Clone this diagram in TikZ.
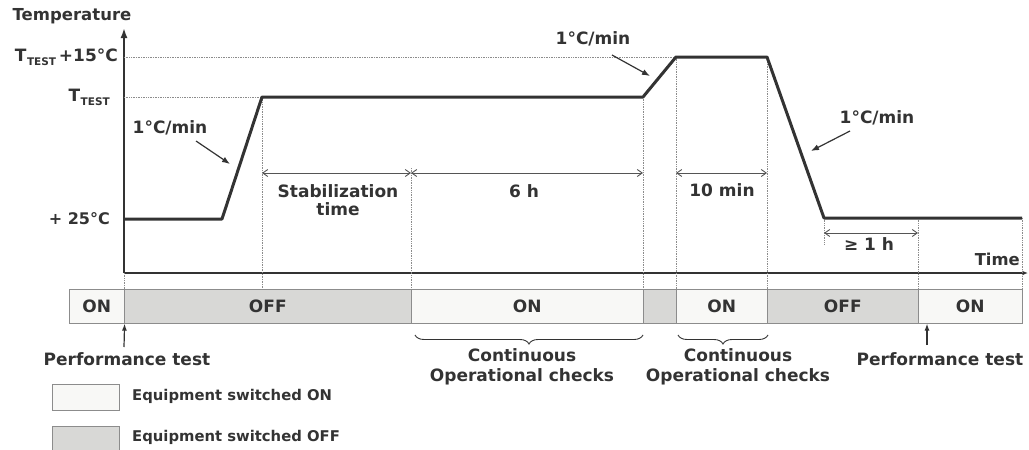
\documentclass[tikz,border=0pt]{standalone}
\usepackage{fontspec}
\setmainfont{DejaVu Sans}
\usetikzlibrary{arrows.meta,decorations.pathreplacing}
\definecolor{ink}{HTML}{333333}
\definecolor{offgray}{HTML}{D8D8D6}
\definecolor{onwhite}{HTML}{F8F8F6}
\definecolor{dotgray}{HTML}{8C8C8C}
\definecolor{dimgray}{HTML}{555555}
\newcommand{\ttest}{T\kern0.5pt\raisebox{-0.45ex}{\fontsize{10.5}{11}\selectfont TEST}}
\begin{document}
\begin{tikzpicture}[x=1pt,y=-1pt,
  lbl/.style={font=\bfseries\fontsize{17}{20}\selectfont, text=ink, inner sep=0pt},
  leg/.style={font=\bfseries\fontsize{14.8}{18}\selectfont, text=ink, inner sep=0pt, anchor=west},
  seg/.style={draw=dotgray, line width=0.6pt, minimum height=34pt, anchor=north west, inner sep=0pt,
    font=\bfseries\fontsize{17}{20}\selectfont, text=ink},
  onseg/.style={seg, fill=onwhite},
  offseg/.style={seg, fill=offgray},
  axisline/.style={draw=ink, line width=1.8pt},
  curveline/.style={draw=ink, line width=3pt, line join=round},
  guide/.style={draw=dotgray, line width=0.7pt, densely dotted},
  dimarr/.style={draw=dimgray, line width=0.9pt, {Straight Barb[length=5pt,width=7pt]}-{Straight Barb[length=5pt,width=7pt]}},
  ratearr/.style={draw=ink, line width=1.2pt, -{Latex[length=8pt,width=6pt]}},
  testarr/.style={draw=ink, line width=1.2pt, -{Latex[length=7pt,width=5pt]}},
  bracedeco/.style={draw=ink, line width=0.9pt, decorate, decoration={brace, mirror, amplitude=9pt}}
]
\useasboundingbox (0,0) rectangle (1029,450);

% ---- axes
\coordinate (o) at (124,273);
\coordinate (ytop) at (124,28);
\coordinate (xend) at (1028,273);
\draw[axisline, -{Latex[length=10pt,width=7pt]}] (o) -- (ytop);
\draw[axisline, -{Latex[length=6pt,width=5pt]}] (o) -- (xend);
\node[lbl, font=\bfseries\fontsize{16.5}{20}\selectfont] (ylab) at (72,16) {Temperature};
\node[lbl, font=\bfseries\fontsize{16.4}{20}\selectfont, anchor=east] (xlab) at (1020,259) {Time};

% ---- level labels
\node[lbl, anchor=east] (lhi) at (118,57) {\ttest\,+15°C};
\node[lbl, anchor=east] (lmid) at (110,97) {\ttest};
\node[lbl, anchor=east, font=\bfseries\fontsize{16}{20}\selectfont] (llow) at (110,219) {+ 25°C};

% ---- curve points
\coordinate (p0) at (124,219);
\coordinate (p1) at (222,219);
\coordinate (p2) at (262,97);
\coordinate (p3) at (643,97);
\coordinate (p4) at (676,57);
\coordinate (p5) at (767,57);
\coordinate (p6) at (824,218);
\coordinate (p7) at (1022,218);

% ---- guide lines
\coordinate (yhi) at (124,57);
\coordinate (ymid) at (124,97);
\draw[guide] (yhi) -- (p4);
\draw[guide] (ymid) -- (p2);
\coordinate (b0) at (124,289);
\coordinate (b2) at (262,289);
\coordinate (g3t) at (411,168);
\coordinate (b3) at (411,289);
\coordinate (b4) at (643,289);
\coordinate (b5) at (676,289);
\coordinate (b6) at (767,289);
\coordinate (g7b) at (824,245);
\coordinate (g8t) at (918,218);
\coordinate (b8) at (918,289);
\coordinate (b9) at (1022,289);
\draw[guide] (o) -- (b0);
\draw[guide] (p2) -- (b2);
\draw[guide] (g3t) -- (b3);
\draw[guide] (p3) -- (b4);
\draw[guide] (p4) -- (b5);
\draw[guide] (p5) -- (b6);
\draw[guide] (p6) -- (g7b);
\draw[guide] (g8t) -- (b8);
\draw[guide] (p7) -- (b9);

% ---- temperature curve
\draw[curveline] (p0) -- (p1) -- (p2) -- (p3) -- (p4) -- (p5) -- (p6) -- (p7);

% ---- dimension arrows
\coordinate (d1a) at (262,173);
\coordinate (d1b) at (411,173);
\coordinate (d2b) at (643,173);
\coordinate (d3a) at (676,173);
\coordinate (d3b) at (767,173);
\coordinate (d4a) at (824,233);
\coordinate (d4b) at (918,233);
\draw[dimarr] (d1a) -- (d1b);
\draw[dimarr] (d1b) -- (d2b);
\draw[dimarr] (d3a) -- (d3b);
\draw[dimarr] (d4a) -- (d4b);
\node[lbl, align=center, font=\bfseries\fontsize{17}{18}\selectfont] (tstab) at (338,200) {Stabilization\\time};
\node[lbl] (t6h) at (524,191) {6 h};
\node[lbl] (t10) at (722,190) {10 min};
\node[lbl] (t1h) at (869,244) {≥ 1 h};

% ---- rate labels
\node[lbl] (r1) at (170,128) {1°C/min};
\node[lbl] (r2) at (593,39) {1°C/min};
\node[lbl] (r3) at (877,118) {1°C/min};
\coordinate (r1s) at (196,141);
\coordinate (r1e) at (230,164);
\coordinate (r2s) at (612,55);
\coordinate (r2e) at (650,76);
\coordinate (r3s) at (850,131);
\coordinate (r3e) at (811,151);
\draw[ratearr] (r1s) -- (r1e);
\draw[ratearr] (r2s) -- (r2e);
\draw[ratearr] (r3s) -- (r3e);

% ---- status bar
\node[onseg, minimum width=55pt] (s1) at (69,289) {ON};
\node[offseg, minimum width=287pt] (s2) at (124,289) {OFF};
\node[onseg, minimum width=232pt] (s3) at (411,289) {ON};
\node[offseg, minimum width=33pt] (s4) at (643,289) {};
\node[onseg, minimum width=91pt] (s5) at (676,289) {ON};
\node[offseg, minimum width=151pt] (s6) at (767,289) {OFF};
\node[onseg, minimum width=104pt] (s7) at (918,289) {ON};

% ---- performance tests
\node[lbl] (pt1) at (127,359) {Performance test};
\node[lbl] (pt2) at (940,359) {Performance test};
\coordinate (a1s) at (124,347);
\coordinate (a2s) at (927,345);
\draw[testarr] (a1s) -- (s1.south east);
\draw[testarr] (a2s) -- (a2s |- s7.south);

% ---- braces
\coordinate (br1a) at (415,335);
\coordinate (br1b) at (643,335);
\coordinate (br2a) at (678,335);
\coordinate (br2b) at (768,335);
\draw[bracedeco] (br1a) -- (br1b);
\draw[bracedeco] (br2a) -- (br2b);
\node[lbl, align=center, font=\bfseries\fontsize{17}{20}\selectfont] (oc1) at (522,367) {Continuous\\Operational checks};
\node[lbl, align=center, font=\bfseries\fontsize{17}{20}\selectfont] (oc2) at (738,367) {Continuous\\Operational checks};

% ---- legend
\node[draw=dotgray, fill=onwhite, line width=0.7pt, minimum width=67pt, minimum height=26pt, anchor=north west, inner sep=0pt] (k1) at (52,384) {};
\node[draw=dotgray, fill=offgray, line width=0.7pt, minimum width=67pt, minimum height=24pt, anchor=north west, inner sep=0pt] (k2) at (52,426) {};
\node[leg] (k1t) at (132,396) {Equipment switched ON};
\node[leg] (k2t) at (132,437) {Equipment switched OFF};
\end{tikzpicture}
\end{document}
